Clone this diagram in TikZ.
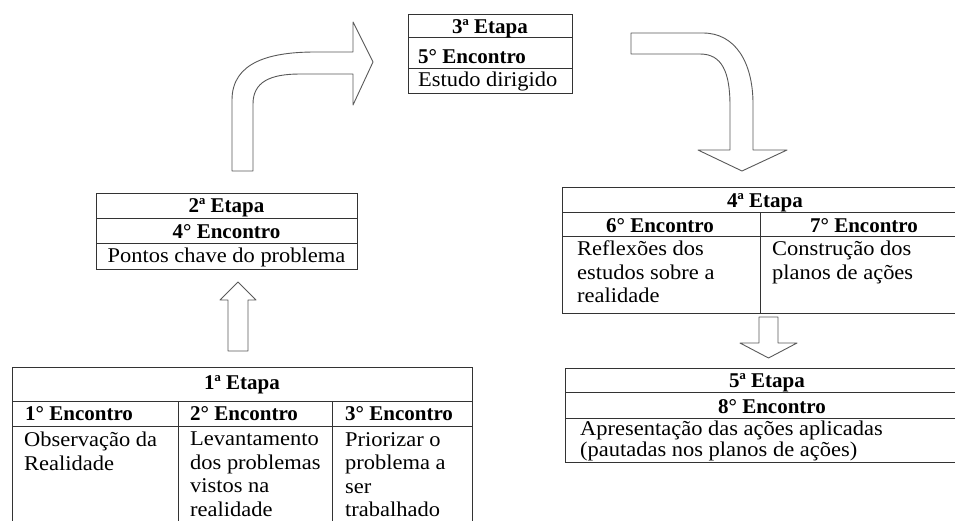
\documentclass[tikz,border=0pt]{standalone}
\usepackage{fontspec}
\setmainfont{Liberation Serif}[UprightFeatures={FakeStretch=1.07}]
\begin{document}
\begin{tikzpicture}[x=1pt, y=-1pt,
  tab/.style={draw=black!80, line width=1pt},
  barrow/.style={draw=black!65, fill=white, line width=0.9pt, line join=round},
  txt/.style={inner sep=0pt, font=\fontsize{21}{23.5}\selectfont},
  hd/.style={inner sep=0pt, font=\fontsize{21}{23.5}\selectfont\bfseries},
  body/.style={txt, anchor=north west, align=left}]
\useasboundingbox (0,0) rectangle (955,520);
\clip (0,0) rectangle (955,520);

% 1a etapa
\draw[tab] (12,367) rectangle (472,560);
\draw[tab] (12,401) -- (472,401) (12,426) -- (472,426);
\draw[tab] (178,401) -- (178,560) (332,401) -- (332,560);
\node[hd, anchor=base] (et1) at (242,389) {1ª Etapa};
\node[hd, anchor=base west] (enc1) at (25,420) {1° Encontro};
\node[hd, anchor=base west] (enc2) at (190,420) {2° Encontro};
\node[hd, anchor=base west] (enc3) at (345,420) {3° Encontro};
\node[body] (txt1) at (24,432) {Observação da\\Realidade};
\node[body] (txt2) at (190,432) {Levantamento\\dos problemas\\vistos na\\realidade};
\node[body] (txt3) at (345,432) {Priorizar o\\problema a\\ser\\trabalhado};

% 2a etapa
\draw[tab] (96,193) rectangle (357,269);
\draw[tab] (96,218) -- (357,218) (96,243) -- (357,243);
\node[hd, anchor=base] (et2) at (226.5,212) {2ª Etapa};
\node[hd, anchor=base] (enc4) at (226.5,238) {4° Encontro};
\node[txt, anchor=base] (txt4) at (226.5,262) {Pontos chave do problema};

% 3a etapa
\draw[tab] (408,14) rectangle (572,93);
\draw[tab] (408,37) -- (572,37) (408,68) -- (572,68);
\node[hd, anchor=base] (et3) at (490,33) {3ª Etapa};
\node[hd, anchor=base west] (enc5) at (418,63) {5° Encontro};
\node[txt, anchor=base west] (txt5) at (418,86) {Estudo dirigido};

% 4a etapa
\draw[tab] (562,187) rectangle (990,313);
\draw[tab] (562,212) -- (990,212) (562,236) -- (990,236);
\draw[tab] (760,212) -- (760,313);
\node[hd, anchor=base] (et4) at (765,207) {4ª Etapa};
\node[hd, anchor=base] (enc6) at (660,232) {6° Encontro};
\node[hd, anchor=base] (enc7) at (864,232) {7° Encontro};
\node[body] (txt6) at (577,241) {Reflexões dos\\estudos sobre a\\realidade};
\node[body] (txt7) at (772,241) {Construção dos\\planos de ações};

% 5a etapa
\draw[tab] (565,368) rectangle (990,462);
\draw[tab] (565,392) -- (990,392) (565,418) -- (990,418);
\node[hd, anchor=base] (et5) at (767,387) {5ª Etapa};
\node[hd, anchor=base] (enc8) at (772,413) {8° Encontro};
\node[body, font=\fontsize{21}{21}\selectfont] (txt8) at (580,421)
  {Apresentação das ações aplicadas\\(pautadas nos planos de ações)};

% setas
\draw[barrow] (228,351) -- (228,300) -- (220,300) -- (238,282) -- (256,300)
  -- (248,300) -- (248,351) -- cycle;
\draw[barrow] (232,171) -- (232,100) .. controls (232,62) and (270,52) .. (315,52)
  -- (353,52) -- (353,22) -- (373,62) -- (353,105) -- (353,74) -- (300,74)
  .. controls (270,74) and (253,82) .. (253,104) -- (253,171) -- cycle;
\draw[barrow] (631,33) -- (703,33) .. controls (735,33) and (753,62) .. (753,104)
  -- (753,150) -- (787,150) -- (742,171) -- (698,150) -- (730,150) -- (730,106)
  .. controls (730,72) and (722,54) .. (700,54) -- (631,54) -- cycle;
\draw[barrow] (759,317) -- (759,343) -- (740,343) -- (768.5,358) -- (797,343)
  -- (778,343) -- (778,317) -- cycle;

\end{tikzpicture}
\end{document}
